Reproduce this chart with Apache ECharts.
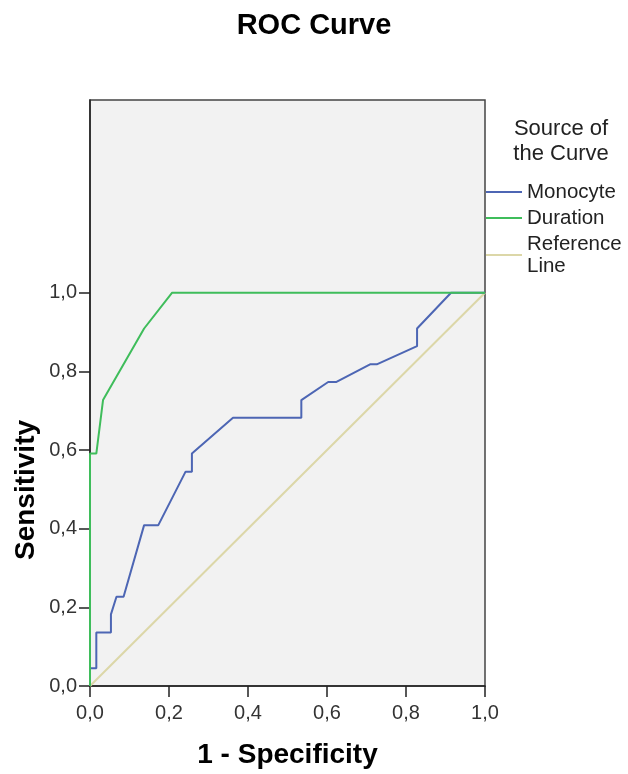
<!DOCTYPE html>
<html>
<head>
<meta charset="utf-8">
<script src="https://cdn.jsdelivr.net/npm/echarts@6/dist/echarts.min.js"></script>
<style>
html,body{margin:0;padding:0;background:#fff;}
#chart{width:628px;height:774px;}
</style>
</head>
<body>
<div id="chart"></div>
<script>
// ---- data ----
var seriesNames = ['Monocyte', 'Duration', 'Reference\nLine'];
var monocyteFpr = [0, 0, 0.016, 0.016, 0.053, 0.053, 0.067, 0.085, 0.137, 0.173, 0.242, 0.258, 0.258, 0.362, 0.535, 0.535, 0.603, 0.624, 0.709, 0.726, 0.828, 0.828, 0.914, 1.0];
var monocyteTpr = [0, 0.045, 0.045, 0.136, 0.136, 0.182, 0.227, 0.227, 0.409, 0.409, 0.545, 0.545, 0.591, 0.682, 0.682, 0.727, 0.773, 0.773, 0.818, 0.818, 0.864, 0.909, 1.0, 1.0];
var durationFpr = [0, 0, 0.016, 0.033, 0.137, 0.208, 1.0];
var durationTpr = [0, 0.591, 0.591, 0.727, 0.909, 1.0, 1.0];
var referenceFpr = [0, 1];
var referenceTpr = [0, 1];
var xTickValues = [0, 0.2, 0.4, 0.6, 0.8, 1.0];
var yTickValues = [0, 0.2, 0.4, 0.6, 0.8, 1.0];

function pairs(xs, ys) { return xs.map(function (x, i) { return [x, ys[i]]; }); }
function fmt(v) { return Number(v).toFixed(1).replace('.', ','); }

var FONT = 'Liberation Sans, Arial, sans-serif';
var chart = echarts.init(document.getElementById('chart'), null, { renderer: 'canvas' });

chart.setOption({
  animation: false,
  backgroundColor: '#ffffff',
  title: {
    text: 'ROC Curve',
    left: 'center',
    top: 11,
    padding: 0,
    textStyle: { fontFamily: FONT, fontSize: 29, fontWeight: 'bold', color: '#000' }
  },
  graphic: [
    {
      type: 'text',
      x: 26, y: 490,
      rotation: Math.PI / 2,
      style: {
        text: 'Sensitivity',
        font: 'bold 28px ' + FONT,
        fill: '#000',
        textAlign: 'center',
        textVerticalAlign: 'middle'
      }
    },
    {
      type: 'text',
      x: 561, y: 116,
      style: {
        text: 'Source of\nthe Curve',
        font: '22px ' + FONT,
        fill: '#222',
        lineHeight: 25,
        textAlign: 'center',
        textVerticalAlign: 'top'
      }
    }
  ],
  legend: {
    orient: 'vertical',
    left: 486,
    top: 181,
    padding: 0,
    icon: 'rect',
    itemWidth: 36,
    itemHeight: 2,
    itemGap: 4,
    selectedMode: false,
    data: seriesNames,
    textStyle: { fontFamily: FONT, fontSize: 20.5, color: '#222', lineHeight: 22 }
  },
  grid: {
    left: 90, right: 143, top: 100, bottom: 86,
    show: true,
    backgroundColor: '#f2f2f2',
    borderColor: '#444',
    borderWidth: 1.5
  },
  xAxis: {
    type: 'value',
    min: 0, max: 1, interval: 0.2,
    name: '1 - Specificity',
    nameLocation: 'middle',
    nameGap: 55,
    nameTextStyle: { fontFamily: FONT, fontSize: 28, fontWeight: 'bold', color: '#000' },
    axisLine: { show: true, onZero: false, lineStyle: { color: '#222', width: 1.5 } },
    axisTick: { show: true, length: 11, lineStyle: { color: '#222', width: 1.5 }, customValues: xTickValues },
    axisLabel: { fontFamily: FONT, fontSize: 20, color: '#333', margin: 17, formatter: fmt, customValues: xTickValues },
    splitLine: { show: false }
  },
  yAxis: {
    type: 'value',
    min: 0, max: 1.49, interval: 0.2,
    axisLine: { show: true, onZero: false, lineStyle: { color: '#222', width: 1.5 } },
    axisTick: { show: true, length: 11, lineStyle: { color: '#222', width: 1.5 }, customValues: yTickValues },
    axisLabel: { fontFamily: FONT, fontSize: 20, color: '#333', margin: 13, formatter: fmt, customValues: yTickValues },
    splitLine: { show: false }
  },
  series: [
    {
      name: seriesNames[0], type: 'line', symbol: 'none',
      data: pairs(monocyteFpr, monocyteTpr),
      lineStyle: { color: '#4d66b4', width: 2 }, itemStyle: { color: '#4d66b4' }, z: 3
    },
    {
      name: seriesNames[1], type: 'line', symbol: 'none',
      data: pairs(durationFpr, durationTpr),
      lineStyle: { color: '#3fbd5b', width: 2 }, itemStyle: { color: '#3fbd5b' }, z: 4
    },
    {
      name: seriesNames[2], type: 'line', symbol: 'none',
      data: pairs(referenceFpr, referenceTpr),
      lineStyle: { color: '#dcd7a8', width: 2 }, itemStyle: { color: '#dcd7a8' }, z: 2
    }
  ]
});
</script>
</body>
</html>
